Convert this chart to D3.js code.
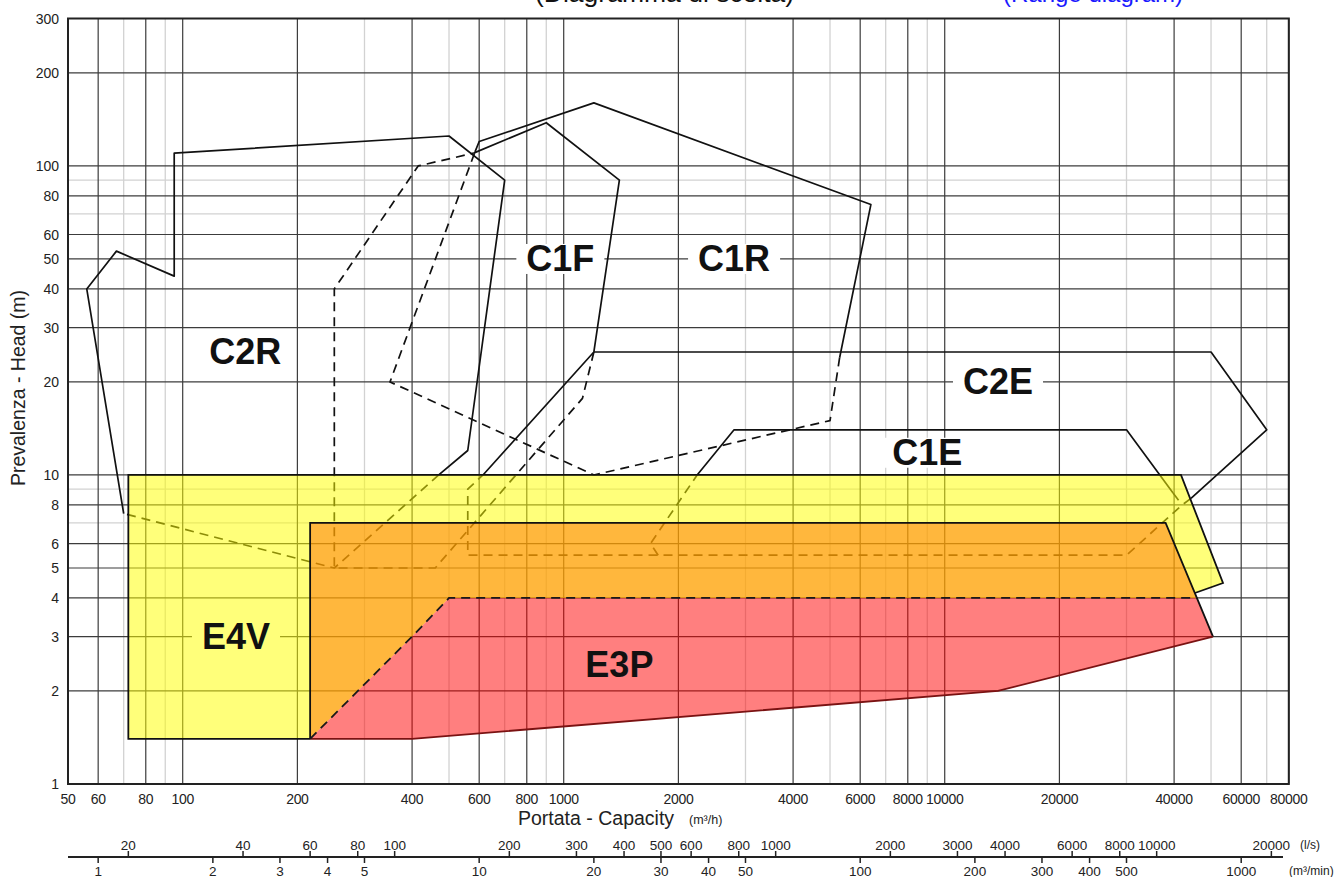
<!DOCTYPE html>
<html>
<head>
<meta charset="utf-8">
<script src="https://cdn.jsdelivr.net/npm/d3@7"></script>
<style>
  html, body { margin: 0; padding: 0; background: #fff; }
  svg { display: block; font-family: "Liberation Sans", Arial, sans-serif; }
</style>
</head>
<body>
<svg id="chart" width="1340" height="877"></svg>
<script>
// ---- axis ticks ----
const flowTicks  = [50, 60, 80, 100, 200, 400, 600, 800, 1000, 2000, 4000, 6000, 8000, 10000, 20000, 40000, 60000, 80000];
const flowMinor  = [70, 90, 300, 500, 700, 900, 3000, 5000, 7000, 9000, 30000, 50000, 70000];
const headTicks  = [1, 2, 3, 4, 5, 6, 8, 10, 20, 30, 40, 50, 60, 80, 100, 200, 300];
const headMinor  = [7, 9, 70, 90];
const lpsTicks   = [20, 40, 60, 80, 100, 200, 300, 400, 500, 600, 800, 1000, 2000, 3000, 4000, 6000, 8000, 10000, 20000];
const m3minTicks = [1, 2, 3, 4, 5, 10, 20, 30, 40, 50, 100, 200, 300, 400, 500, 1000];

// ---- pump family envelopes: [flow m3/h, head m] ----
const c2rSolid  = [[70, 7.5], [56, 40], [67, 53], [95, 44], [95, 110], [500, 125], [700, 90], [560, 12], [470, 10]];
const c2rDashed = [[470, 10], [250, 5], [70, 7.5]];

const c1fSolid  = [[580, 110], [900, 138], [1400, 90], [1200, 25]];
const c1fDashed = [[1200, 25], [1120, 17.7], [460, 5], [250, 5], [250, 40], [415, 100], [580, 110]];

const c1rSolid  = [[585, 111], [600, 120], [1200, 160], [6400, 75], [5300, 24]];
const c1rDashed = [[5300, 24], [5000, 15], [1200, 10], [350, 20], [585, 111]];

const c2eSolid  = [[44300, 8.4], [70000, 14], [50000, 25], [1200, 25], [614, 10]];
const c2eDashed = [[44300, 8.4], [42000, 8], [30000, 5.5], [560, 5.5], [560, 9], [614, 10]];

const c1eSolid   = [[2240, 10], [2800, 14], [30000, 14], [39750, 8.74]];
const c1eDashedR = [[39750, 8.74], [42000, 8]];
const c1eDashedL = [[1770, 5.5], [1690, 6], [2240, 10]];

// ---- filled ranges ----
const e4vArea = [[72, 1.4], [72, 10], [41700, 10], [53750, 4.47], [45360, 4.15], [38000, 7], [216, 7], [216, 1.4]];
const midArea = [[216, 1.4], [216, 7], [38000, 7], [45900, 4], [500, 4], [400, 3], [216, 1.4]];
const e3pArea = [[216, 1.4], [400, 3], [500, 4], [45900, 4], [50600, 3], [13800, 2], [400, 1.4]];

const e4vEdge    = [[216, 1.4], [72, 1.4], [72, 10], [41700, 10], [53750, 4.47], [45360, 4.15]];
const midEdge    = [[216, 1.4], [216, 7], [38000, 7], [50600, 3]];
const e3pBottom  = [[216, 1.4], [400, 1.4], [13800, 2], [50600, 3]];
const e3pDashed  = [[216, 1.4], [400, 3], [500, 4], [45900, 4]];

// ---- range names: [text, flow, head] ----
const rangeNames  = ["C2R", "C1F", "C1R", "C2E", "C1E", "E4V", "E3P"];
const rangeFlow   = [146, 980, 2800, 13800, 9000, 138, 1400];
const rangeHead   = [25, 50, 50, 20, 11.8, 3, 2.43];

// ---- layout ----
const x = d3.scaleLog().domain([50, 80000]).range([68, 1288.8]);
const y = d3.scaleLog().domain([1, 300]).range([784, 18.5]);
const [x0, x1] = x.range();
const [yb, yt] = y.range();

const svg = d3.select("#chart");
const line = d3.line().x(d => x(d[0])).y(d => y(d[1]));

// heading above the plot (runs off the top edge of the sheet)
svg.append("text").attr("x", 535).attr("y", 2).attr("font-size", 26.5).attr("fill", "#111")
  .text("(Diagramma di scelta)");
svg.append("text").attr("x", 1003).attr("y", 2).attr("font-size", 24).attr("fill", "#1a1aff")
  .text("(Range diagram)");

// ---- grid ----
const grid = svg.append("g");
grid.selectAll(".vmin").data(flowMinor).join("line")
  .attr("x1", d => x(d)).attr("x2", d => x(d)).attr("y1", yt).attr("y2", yb)
  .attr("stroke", "#d2d2d2").attr("stroke-width", 1.3);
grid.selectAll(".hmin").data(headMinor).join("line")
  .attr("x1", x0).attr("x2", x1).attr("y1", d => y(d)).attr("y2", d => y(d))
  .attr("stroke", "#d2d2d2").attr("stroke-width", 1.3);
grid.selectAll(".vmaj").data(flowTicks).join("line")
  .attr("x1", d => x(d)).attr("x2", d => x(d)).attr("y1", yt).attr("y2", yb)
  .attr("stroke", "#3c3c3c").attr("stroke-width", 1.2);
grid.selectAll(".hmaj").data(headTicks).join("line")
  .attr("x1", x0).attr("x2", x1).attr("y1", d => y(d)).attr("y2", d => y(d))
  .attr("stroke", "#3c3c3c").attr("stroke-width", 1.2);

// knock-out boxes behind the range names (under outlines and fills)
const knock = svg.append("g");

// ---- envelope outlines ----
const outl = svg.append("g").attr("fill", "none").attr("stroke", "#111").attr("stroke-width", 1.7)
  .attr("stroke-linejoin", "round");
[c2rSolid, c1fSolid, c1rSolid, c2eSolid, c1eSolid].forEach(p => outl.append("path").attr("d", line(p)));
[c2rDashed, c1fDashed, c1rDashed, c2eDashed, c1eDashedR, c1eDashedL].forEach(p =>
  outl.append("path").attr("d", line(p)).attr("stroke-dasharray", "9,6"));

// ---- translucent filled ranges ----
const fills = svg.append("g");
fills.append("path").attr("d", line(e4vArea) + "Z").attr("fill", "rgb(255,255,0)").attr("fill-opacity", 0.52);
fills.append("path").attr("d", line(midArea) + "Z").attr("fill", "rgb(255,160,0)").attr("fill-opacity", 0.76);
fills.append("path").attr("d", line(e3pArea) + "Z").attr("fill", "rgb(255,0,0)").attr("fill-opacity", 0.5);

const edges = svg.append("g").attr("fill", "none").attr("stroke-width", 1.8).attr("stroke-linejoin", "miter");
edges.append("path").attr("d", line(e4vEdge)).attr("stroke", "#111");
edges.append("path").attr("d", line(midEdge)).attr("stroke", "#111");
edges.append("path").attr("d", line(e3pBottom)).attr("stroke", "#7a1212");
edges.append("path").attr("d", line(e3pDashed)).attr("stroke", "#1a1a1a").attr("stroke-dasharray", "9,6");

// plot frame
svg.append("rect").attr("x", x0).attr("y", yt).attr("width", x1 - x0).attr("height", yb - yt)
  .attr("fill", "none").attr("stroke", "#222").attr("stroke-width", 2);

// range names on top
const labelG = svg.append("g").attr("font-size", 36).attr("font-weight", "bold");
rangeNames.forEach((name, i) => {
  const cx = x(rangeFlow[i]), cy = y(rangeHead[i]);
  const t = labelG.append("text").attr("x", cx).attr("y", cy)
    .attr("text-anchor", "middle").attr("dominant-baseline", "central").attr("fill", "#111").text(name);
  const bb = t.node().getBBox();
  knock.append("rect").attr("x", bb.x - 10).attr("width", bb.width + 20)
    .attr("y", cy - 15).attr("height", 30).attr("fill", "#fff");
});

// ---- axes text ----
const axT = svg.append("g").attr("fill", "#222").attr("font-size", 14);
axT.selectAll(".yl").data(headTicks).join("text")
  .attr("x", 59).attr("y", d => y(d)).attr("text-anchor", "end").attr("dominant-baseline", "central").text(d => d);
axT.selectAll(".xl").data(flowTicks).join("text")
  .attr("x", d => x(d)).attr("y", 799).attr("text-anchor", "middle").attr("dominant-baseline", "central")
  .attr("letter-spacing", -0.3).text(d => d);

svg.append("text").attr("x", 518).attr("y", 825).attr("font-size", 19.5).attr("fill", "#222")
  .text("Portata - Capacity");
svg.append("text").attr("x", 689).attr("y", 824).attr("font-size", 12.5).attr("fill", "#222")
  .text("(m³/h)");
svg.append("text").attr("transform", "translate(25,388) rotate(-90)").attr("text-anchor", "middle")
  .attr("font-size", 19.5).attr("fill", "#222").text("Prevalenza - Head  (m)");

// secondary capacity scales: l/s above the line, m3/min below
const ay = 857;
svg.append("line").attr("x1", 68).attr("x2", 1283).attr("y1", ay).attr("y2", ay)
  .attr("stroke", "#222").attr("stroke-width", 2);
const ls = svg.append("g");
ls.selectAll("line").data(lpsTicks).join("line")
  .attr("x1", d => x(d * 3.6)).attr("x2", d => x(d * 3.6)).attr("y1", ay).attr("y2", ay - 6)
  .attr("stroke", "#222").attr("stroke-width", 1.5);
ls.selectAll("text").data(lpsTicks).join("text")
  .attr("x", d => x(d * 3.6)).attr("y", 845).attr("text-anchor", "middle").attr("dominant-baseline", "central")
  .attr("font-size", 13.5).attr("fill", "#222").text(d => d);
const mm = svg.append("g");
mm.selectAll("line").data(m3minTicks).join("line")
  .attr("x1", d => x(d * 60)).attr("x2", d => x(d * 60)).attr("y1", ay).attr("y2", ay + 6)
  .attr("stroke", "#222").attr("stroke-width", 1.5);
mm.selectAll("text").data(m3minTicks).join("text")
  .attr("x", d => x(d * 60)).attr("y", 871).attr("text-anchor", "middle").attr("dominant-baseline", "central")
  .attr("font-size", 13.5).attr("fill", "#222").text(d => d);
svg.append("text").attr("x", 1300).attr("y", 845).attr("dominant-baseline", "central")
  .attr("font-size", 12).attr("fill", "#222").text("(l/s)");
svg.append("text").attr("x", 1289).attr("y", 871).attr("dominant-baseline", "central")
  .attr("font-size", 12).attr("fill", "#222").text("(m³/min)");
</script>
</body>
</html>
